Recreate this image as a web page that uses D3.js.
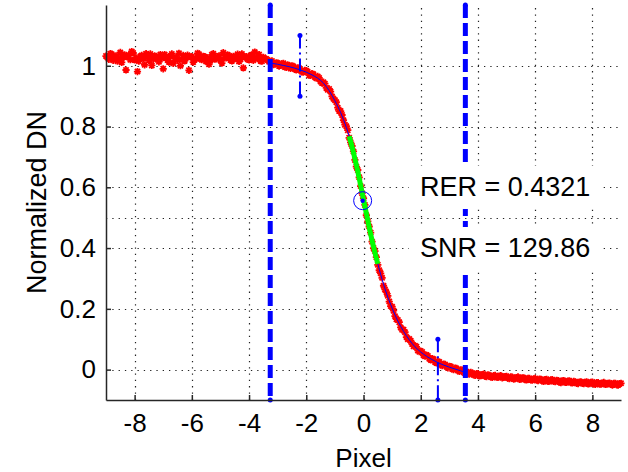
<!DOCTYPE html>
<html>
<head>
<meta charset="utf-8">
<script src="https://cdn.jsdelivr.net/npm/d3@7"></script>
<style>
  html, body { margin: 0; padding: 0; background: #fff; }
  svg { display: block; font-family: "Liberation Sans", Arial, Helvetica, sans-serif; }
</style>
</head>
<body>
<svg id="chart" width="628" height="472"></svg>
<script>
// Axis ticks
const xTicks = [-8, -6, -4, -2, 0, 2, 4, 6, 8];
const yTicks = [0, 0.2, 0.4, 0.6, 0.8, 1];
const halfLevel = 0.5;

// Edge spread samples, first pass (pixel position vs normalized DN)
const esfPixel = [
  -9.0,-8.9,-8.8,-8.7,-8.6,-8.5,-8.4,-8.3,-8.2,-8.1,
  -8.0,-7.9,-7.8,-7.7,-7.6,-7.5,-7.4,-7.3,-7.2,-7.1,
  -7.0,-6.9,-6.8,-6.7,-6.6,-6.5,-6.4,-6.3,-6.2,-6.1,
  -6.0,-5.9,-5.8,-5.7,-5.6,-5.5,-5.4,-5.3,-5.2,-5.1,
  -5.0,-4.9,-4.8,-4.7,-4.6,-4.5,-4.4,-4.3,-4.2,-4.1,
  -4.0,-3.9,-3.8,-3.7,-3.6,-3.5,-3.4,-3.3,-3.2,-3.1,
  -3.0,-2.9,-2.8,-2.7,-2.6,-2.5,-2.4,-2.3,-2.2,-2.1,
  -2.0,-1.9,-1.8,-1.7,-1.6,-1.5,-1.4,-1.3,-1.2,-1.1,
  -1.0,-0.9,-0.8,-0.7,-0.6,-0.5,-0.4,-0.3,-0.2,-0.1,
   0.0, 0.1, 0.2, 0.3, 0.4, 0.5, 0.6, 0.7, 0.8, 0.9,
   1.0, 1.1, 1.2, 1.3, 1.4, 1.5, 1.6, 1.7, 1.8, 1.9,
   2.0, 2.1, 2.2, 2.3, 2.4, 2.5, 2.6, 2.7, 2.8, 2.9,
   3.0, 3.1, 3.2, 3.3, 3.4, 3.5, 3.6, 3.7, 3.8, 3.9,
   4.0, 4.1, 4.2, 4.3, 4.4, 4.5, 4.6, 4.7, 4.8, 4.9,
   5.0, 5.1, 5.2, 5.3, 5.4, 5.5, 5.6, 5.7, 5.8, 5.9,
   6.0, 6.1, 6.2, 6.3, 6.4, 6.5, 6.6, 6.7, 6.8, 6.9,
   7.0, 7.1, 7.2, 7.3, 7.4, 7.5, 7.6, 7.7, 7.8, 7.9,
   8.0, 8.1, 8.2, 8.3, 8.4, 8.5, 8.6, 8.7, 8.8, 8.9,
   9.0
];
const esfDN = [
  1.032,1.021,1.038,1.026,1.015,1.044,1.029,0.986,1.035,1.047,
  1.019,0.981,1.031,1.024,1.040,1.017,1.001,1.033,1.022,1.037,
  0.990,1.028,1.012,1.039,1.025,1.018,1.000,1.034,1.027,0.985,
  1.030,1.020,1.041,1.023,1.031,1.014,1.005,1.036,1.022,1.029,
  1.018,1.043,1.026,1.033,1.016,1.024,1.038,1.021,0.993,1.030,
  1.019,1.035,1.045,1.024,1.016,1.028,1.022,1.013,1.016,1.005,
  1.009,1.001,1.008,0.995,1.000,1.000,0.989,0.993,0.984,0.979,
  0.984,0.969,0.974,0.963,0.965,0.948,0.946,0.927,0.924,0.899,
  0.887,0.862,0.851,0.821,0.801,0.763,0.736,0.690,0.657,0.604,
  0.564,0.508,0.471,0.421,0.390,0.345,0.317,0.276,0.255,0.224,
  0.207,0.176,0.163,0.139,0.131,0.107,0.101,0.084,0.079,0.063,
  0.061,0.047,0.048,0.036,0.036,0.025,0.027,0.016,0.018,0.009,
  0.011,0.002,0.005,-0.003,-0.001,-0.009,-0.007,-0.015,-0.012,-0.019,
  -0.014,-0.020,-0.015,-0.023,-0.019,-0.026,-0.019,-0.026,-0.020,-0.026,
  -0.022,-0.030,-0.025,-0.030,-0.024,-0.031,-0.027,-0.034,-0.029,-0.035,
  -0.029,-0.036,-0.032,-0.039,-0.032,-0.038,-0.033,-0.040,-0.036,-0.043,
  -0.036,-0.042,-0.037,-0.044,-0.040,-0.046,-0.040,-0.046,-0.040,-0.046,
  -0.041,-0.049,-0.043,-0.048,-0.042,-0.048,-0.044,-0.051,-0.045,-0.051,
  -0.045
];

// Edge spread samples, second pass (half-pixel offset)
const esfPixel2 = [
  -8.95,-8.85,-8.75,-8.65,-8.55,-8.45,-8.35,-8.25,-8.15,-8.05,
  -7.95,-7.85,-7.75,-7.65,-7.55,-7.45,-7.35,-7.25,-7.15,-7.05,
  -6.95,-6.85,-6.75,-6.65,-6.55,-6.45,-6.35,-6.25,-6.15,-6.05,
  -5.95,-5.85,-5.75,-5.65,-5.55,-5.45,-5.35,-5.25,-5.15,-5.05,
  -4.95,-4.85,-4.75,-4.65,-4.55,-4.45,-4.35,-4.25,-4.15,-4.05,
  -3.95,-3.85,-3.75,-3.65,-3.55,-3.45,-3.35,-3.25,-3.15,-3.05,
  -2.95,-2.85,-2.75,-2.65,-2.55,-2.45,-2.35,-2.25,-2.15,-2.05,
  -1.95,-1.85,-1.75,-1.65,-1.55,-1.45,-1.35,-1.25,-1.15,-1.05,
  -0.95,-0.85,-0.75,-0.65,-0.55,-0.45,-0.35,-0.25,-0.15,-0.05,
   0.05, 0.15, 0.25, 0.35, 0.45, 0.55, 0.65, 0.75, 0.85, 0.95,
   1.05, 1.15, 1.25, 1.35, 1.45, 1.55, 1.65, 1.75, 1.85, 1.95,
   2.05, 2.15, 2.25, 2.35, 2.45, 2.55, 2.65, 2.75, 2.85, 2.95,
   3.05, 3.15, 3.25, 3.35, 3.45, 3.55, 3.65, 3.75, 3.85, 3.95,
   4.05, 4.15, 4.25, 4.35, 4.45, 4.55, 4.65, 4.75, 4.85, 4.95,
   5.05, 5.15, 5.25, 5.35, 5.45, 5.55, 5.65, 5.75, 5.85, 5.95,
   6.05, 6.15, 6.25, 6.35, 6.45, 6.55, 6.65, 6.75, 6.85, 6.95,
   7.05, 7.15, 7.25, 7.35, 7.45, 7.55, 7.65, 7.75, 7.85, 7.95,
   8.05, 8.15, 8.25, 8.35, 8.45, 8.55, 8.65, 8.75, 8.85, 8.95
];
const esfDN2 = [
  1.027,1.040,1.018,1.033,1.024,1.011,1.036,1.029,1.020,1.042,
  1.026,1.015,1.034,1.003,1.028,1.039,1.021,1.030,1.013,1.025,
  1.037,1.019,1.032,1.008,1.027,1.041,1.022,1.016,1.035,1.029,
  1.012,1.024,1.038,1.020,1.030,1.026,1.017,1.040,1.023,1.033,
  1.009,1.027,1.036,1.019,1.031,1.024,1.014,1.039,1.028,1.021,
  1.034,1.018,1.026,1.037,1.015,1.023,1.019,1.013,1.004,1.010,
  0.999,1.006,0.996,1.003,0.991,0.998,0.986,0.992,0.980,0.985,
  0.980,0.968,0.972,0.959,0.960,0.943,0.941,0.921,0.915,0.891,
  0.880,0.851,0.838,0.806,0.788,0.748,0.718,0.668,0.633,0.580,
  0.542,0.488,0.451,0.400,0.370,0.327,0.302,0.264,0.243,0.209,
  0.194,0.166,0.156,0.131,0.123,0.100,0.095,0.077,0.075,0.059,
  0.058,0.044,0.045,0.032,0.034,0.022,0.025,0.013,0.017,0.006,
  0.010,0.000,0.004,-0.006,-0.002,-0.012,-0.013,-0.009,-0.017,-0.013,
  -0.021,-0.016,-0.022,-0.017,-0.024,-0.020,-0.025,-0.021,-0.027,-0.023,
  -0.028,-0.024,-0.031,-0.026,-0.032,-0.027,-0.033,-0.029,-0.034,-0.030,
  -0.035,-0.031,-0.037,-0.033,-0.039,-0.034,-0.039,-0.035,-0.041,-0.037,
  -0.042,-0.038,-0.043,-0.039,-0.045,-0.041,-0.045,-0.042,-0.047,-0.042,
  -0.047,-0.043,-0.048,-0.044,-0.049,-0.045,-0.049,-0.045,-0.050,-0.046
];

// Fitted edge profile between the analysis limits
const fitPixel = [-3.26,-3.0,-2.8,-2.6,-2.4,-2.2,-2.0,-1.8,-1.6,-1.4,-1.2,-1.0,-0.8,-0.6,-0.5,-0.4,-0.2,0.0,
                  0.2,0.4,0.5,0.6,0.8,1.0,1.2,1.4,1.6,1.8,2.0,2.2,2.4,2.6,2.8,3.0,3.2,3.4,3.56];
const fitDN = [1.009,1.005,1.001,0.997,0.992,0.986,0.979,0.970,0.959,0.943,0.918,0.885,0.846,0.797,0.768,0.733,0.652,0.560,
               0.468,0.385,0.348,0.313,0.252,0.202,0.160,0.126,0.098,0.075,0.058,0.044,0.033,0.023,0.015,0.008,0.002,-0.004,-0.009];

// Analysis window, slope window, 10%/90% markers and edge centre
const edgeLimits = [-3.26, 3.56];
const slopeWindow = [-0.5, 0.5];
const levelMarkers = [
  { pixel: -2.22, lo: 0.9, hi: 1.1 },
  { pixel: 2.60, lo: -0.1, hi: 0.1 }
];
const edgeCenter = { pixel: -0.03, dn: 0.556 };

const annotations = ["RER = 0.4321", "SNR = 129.86"];

const W = 628, H = 472;
const margin = { left: 106, right: 7, top: 5, bottom: 72 };
const svg = d3.select("#chart");

const x = d3.scaleLinear().domain([-9, 9]).range([margin.left, W - margin.right]);
const y = d3.scaleLinear().domain([-0.1, 1.2]).range([H - margin.bottom, margin.top]);

const axisColor = "#262626";
const blue = "#0000ff";

// Grid
const grid = svg.append("g").attr("stroke", "#222").attr("stroke-width", 1.2)
  .attr("stroke-dasharray", "1.3,5");
grid.selectAll("line.v").data(xTicks).join("line").attr("class", "v")
  .attr("x1", d => Math.round(x(d)) + 0.5).attr("x2", d => Math.round(x(d)) + 0.5)
  .attr("y1", y(-0.1)).attr("y2", y(1.2));
grid.selectAll("line.h").data(yTicks.concat([halfLevel])).join("line").attr("class", "h")
  .attr("x1", x(-9)).attr("x2", x(9))
  .attr("y1", d => Math.round(y(d)) + 0.5).attr("y2", d => Math.round(y(d)) + 0.5);

// Measured samples as asterisks
const samples = esfPixel.map((p, i) => [p, esfDN[i]])
  .concat(esfPixel2.map((p, i) => [p, esfDN2[i]]));
const star = "M-3.6,0H3.6M0,-3.6V3.6M-2.6,-2.6L2.6,2.6M-2.6,2.6L2.6,-2.6";
svg.append("g").attr("stroke", "#ff0000").attr("stroke-width", 1.8).attr("fill", "none")
  .selectAll("path").data(samples).join("path")
  .attr("transform", d => `translate(${x(d[0])},${y(d[1])})`)
  .attr("d", star);

// Fitted profile
const fitPts = fitPixel.map((p, i) => [p, fitDN[i]]);
const line = d3.line().x(d => x(d[0])).y(d => y(d[1])).curve(d3.curveMonotoneX);
svg.append("path").datum(fitPts).attr("d", line)
  .attr("fill", "none").attr("stroke", blue).attr("stroke-width", 1);

// Slope window segment
svg.append("path")
  .datum(fitPts.filter(d => d[0] >= slopeWindow[0] && d[0] <= slopeWindow[1]))
  .attr("d", line).attr("fill", "none").attr("stroke", "#00ff00").attr("stroke-width", 5);

// Edge centre
svg.append("circle").attr("cx", x(edgeCenter.pixel)).attr("cy", y(edgeCenter.dn)).attr("r", 9)
  .attr("fill", "none").attr("stroke", blue).attr("stroke-width", 1);
svg.append("circle").attr("cx", x(edgeCenter.pixel)).attr("cy", y(edgeCenter.dn)).attr("r", 2.2)
  .attr("fill", blue);

// 10% / 90% markers
levelMarkers.forEach(m => {
  svg.append("line").attr("x1", x(m.pixel)).attr("x2", x(m.pixel))
    .attr("y1", y(m.hi)).attr("y2", y(m.lo))
    .attr("stroke", blue).attr("stroke-width", 2).attr("stroke-dasharray", "13,4,2,4");
  [m.lo, m.hi].forEach(v => svg.append("circle").attr("cx", x(m.pixel)).attr("cy", y(v))
    .attr("r", 2.5).attr("fill", blue));
});

// Analysis limits
edgeLimits.forEach(p => {
  svg.append("line").attr("x1", x(p)).attr("x2", x(p))
    .attr("y1", y(1.2)).attr("y2", y(-0.1))
    .attr("stroke", blue).attr("stroke-width", 5).attr("stroke-dasharray", "13,5");
  [-0.1, 1.2].forEach(v => svg.append("circle").attr("cx", x(p)).attr("cy", y(v))
    .attr("r", 2.5).attr("fill", blue));
});

// Annotation boxes
const annoBaselines = [196, 257];
annotations.forEach((t, i) => {
  const g = svg.append("g");
  const rect = g.append("rect").attr("fill", "#fff");
  const txt = g.append("text").attr("x", 420).attr("y", annoBaselines[i])
    .attr("font-size", 27).attr("fill", "#000").text(t);
  const b = txt.node().getBBox();
  rect.attr("x", b.x - 11).attr("y", b.y - 6).attr("width", b.width + 21).attr("height", b.height + 13);
});

// Axes
const xAxis = d3.axisBottom(x).tickValues(xTicks).tickSizeInner(-5).tickSizeOuter(0)
  .tickPadding(14).tickFormat(d3.format("d"));
const gx = svg.append("g").attr("transform", `translate(0,${y(-0.1)})`).call(xAxis);
const yAxis = d3.axisLeft(y).tickValues(yTicks).tickSizeInner(-5).tickSizeOuter(0)
  .tickPadding(14).tickFormat(d => d === 0 || d === 1 ? String(d) : d3.format(".1f")(d));
const gy = svg.append("g").attr("transform", `translate(${x(-9)},0)`).call(yAxis);
[gx, gy].forEach(g => {
  g.select(".domain").attr("stroke", axisColor).attr("stroke-width", 1.5);
  g.selectAll(".tick line").attr("stroke", axisColor).attr("stroke-width", 1.5);
  g.selectAll(".tick text").attr("fill", "#000").attr("font-size", 26)
    .attr("font-family", "Liberation Sans, Arial, sans-serif");
});
gx.selectAll(".tick text").text(d => d < 0 ? "-" + Math.abs(d) : d);
gy.selectAll(".tick text").attr("dx", 4);

// Axis titles
svg.append("text").attr("x", x(0)).attr("y", 467).attr("text-anchor", "middle")
  .attr("font-size", 26).text("Pixel");
svg.append("text").attr("transform", `translate(46,${(y(-0.1) + y(1.2)) / 2}) rotate(-90)`)
  .attr("text-anchor", "middle").attr("font-size", 27).text("Normalized DN");
</script>
</body>
</html>
